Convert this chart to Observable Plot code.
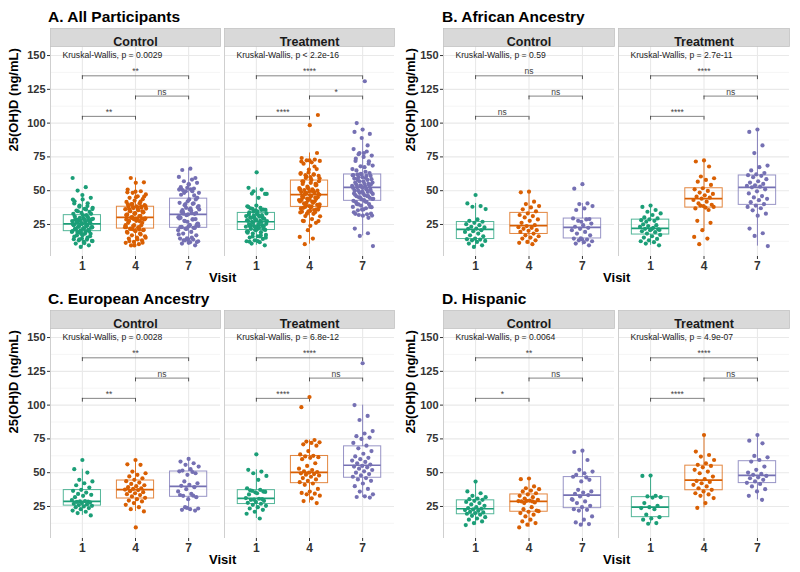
<!DOCTYPE html>
<html><head><meta charset="utf-8">
<script src="https://cdn.jsdelivr.net/npm/d3@7"></script>
<script src="https://cdn.jsdelivr.net/npm/@observablehq/plot@0.6"></script>
<style>
body{margin:0;background:#fff;font-family:"Liberation Sans",Arial,sans-serif;}
#root{position:relative;width:800px;height:572px;overflow:hidden;background:#fff;}
.panel{position:absolute;width:400px;height:290px;}
.ptitle{position:absolute;top:7px;font-size:15.5px;font-weight:bold;line-height:20px;color:#000;white-space:nowrap;}
.pchart{position:absolute;top:24px;left:0;}
</style></head><body><div id="root"></div>
<script>
// ---------- categories ----------
const visits = ["1", "4", "7"];
const arms = ["Control", "Treatment"];
const visitColors = ["#1B9E77", "#D95F02", "#7570B3"];
const yTicks = [25, 50, 75, 100, 125, 150];
const yMinor = [12.5, 37.5, 62.5, 87.5, 112.5, 137.5];
const yTitle = "25(OH)D (ng/mL)";
const xTitle = "Visit";
const panelTitles = ["A. All Participants", "B. African Ancestry", "C. European Ancestry", "D. Hispanic"];

// ---------- pairwise comparison brackets ----------
const bracketFrom = ["1", "4", "1"];
const bracketTo = ["4", "7", "7"];
const bracketY = [105, 120, 135];
const kwY = 150;

const kwA = ["Kruskal-Wallis, p = 0.0029", "Kruskal-Wallis, p < 2.2e-16"];
const kwB = ["Kruskal-Wallis, p = 0.59", "Kruskal-Wallis, p = 2.7e-11"];
const kwC = ["Kruskal-Wallis, p = 0.0028", "Kruskal-Wallis, p = 6.8e-12"];
const kwD = ["Kruskal-Wallis, p = 0.0064", "Kruskal-Wallis, p = 4.9e-07"];

const sigACtrl = ["**", "ns", "**"], sigATrt = ["****", "*", "****"];
const sigBCtrl = ["ns", "ns", "ns"], sigBTrt = ["****", "ns", "****"];
const sigCCtrl = ["**", "ns", "**"], sigCTrt = ["****", "ns", "****"];
const sigDCtrl = ["*", "ns", "**"], sigDTrt = ["****", "ns", "****"];

// ---------- 25(OH)D values (ng/mL) ----------
// African ancestry
const afrCtrl1 = [46.8, 40.6, 38.6, 38.1, 36.4, 28.7, 27.7, 27.0, 26.2, 25.2, 24.5, 23.3, 22.8, 22.0, 21.8, 20.8, 20.0, 19.5, 18.3, 17.0, 16.3, 14.6, 14.1, 13.8, 13.3, 12.8, 12.1, 10.9, 9.6, 8.4];
const afrCtrl4 = [49.3, 48.8, 41.9, 40.1, 38.6, 37.6, 36.2, 34.7, 33.2, 32.0, 31.2, 30.2, 28.7, 27.7, 26.2, 24.5, 23.8, 23.0, 22.5, 21.8, 20.8, 20.3, 19.5, 18.3, 17.0, 16.3, 15.3, 14.6, 13.3, 12.1, 11.4, 10.4];
const afrCtrl7 = [54.8, 51.5, 40.6, 40.1, 38.6, 36.9, 35.7, 29.0, 27.0, 29.5, 28.7, 27.7, 25.7, 24.5, 23.3, 22.5, 21.8, 20.8, 19.5, 18.3, 17.0, 14.0, 14.6, 13.8, 13.3, 12.6, 11.9, 10.9, 9.6, 14.8];
const afrTrt1 = [39.0, 38.0, 35.7, 34.4, 33.2, 32.0, 30.2, 29.5, 28.7, 28.2, 27.7, 27.0, 21.0, 21.5, 25.0, 24.5, 23.8, 23.3, 22.5, 21.8, 21.3, 20.8, 20.0, 19.3, 18.3, 17.3, 16.3, 15.3, 14.3, 13.3, 12.6, 11.9, 10.9, 9.6];
const afrTrt4 = [72.4, 71.6, 67.9, 60.5, 59.2, 58.0, 56.7, 54.3, 51.8, 51.0, 49.8, 48.6, 47.6, 46.6, 45.6, 44.8, 44.1, 43.1, 41.9, 40.6, 39.6, 38.6, 36.9, 35.7, 39.0, 38.0, 37.5, 27.7, 26.2, 20.8, 15.8, 14.6, 10.4];
const afrTrt7 = [95.2, 93.5, 83.5, 77.8, 68.6, 67.4, 65.0, 63.0, 62.0, 61.5, 61.0, 60.0, 58.5, 57.0, 56.0, 55.0, 54.0, 53.5, 53.0, 52.5, 51.0, 49.5, 48.0, 46.0, 45.0, 44.0, 43.0, 41.5, 40.0, 39.0, 38.0, 37.0, 35.5, 33.0, 31.5, 22.0, 18.5, 16.5, 9.0];
// European ancestry
const eurCtrl1 = [59.4, 52.6, 50.1, 44.7, 43.5, 42.2, 40.7, 39.0, 37.3, 36.6, 35.3, 34.3, 33.6, 32.9, 31.9, 28.6, 28.7, 29.7, 28.9, 28.4, 28.0, 27.5, 27.0, 26.5, 26.0, 25.5, 25.0, 24.5, 23.8, 23.0, 22.0, 21.1, 20.1, 18.4];
const eurCtrl4 = [59.4, 56.2, 55.8, 50.8, 49.6, 48.4, 47.2, 45.9, 44.7, 43.7, 42.7, 41.7, 40.7, 40.0, 39.3, 38.5, 38.0, 37.5, 37.1, 36.3, 35.6, 34.8, 34.1, 33.4, 32.4, 31.4, 30.4, 29.4, 28.7, 27.5, 26.2, 24.5, 23.0, 21.3, 9.5];
const eurCtrl7 = [60.2, 58.2, 57.0, 55.8, 54.5, 52.6, 51.6, 49.6, 48.4, 51.0, 50.5, 43.5, 42.2, 41.0, 40.3, 39.3, 37.8, 36.1, 34.3, 32.9, 31.9, 30.4, 33.5, 33.0, 24.5, 23.5, 23.0, 22.5, 22.0, 24.0];
const eurTrt1 = [63.6, 52.1, 50.8, 49.6, 47.6, 44.7, 37.0, 36.0, 35.5, 38.5, 37.3, 36.6, 35.8, 34.8, 33.9, 30.5, 30.0, 31.2, 30.7, 29.9, 29.2, 28.4, 27.7, 27.0, 26.2, 25.5, 24.5, 23.5, 22.5, 21.1, 19.6, 16.1];
const eurTrt4 = [106, 98.5, 74.2, 73, 72.5, 72, 71, 70, 66, 63.5, 62.5, 62, 61.5, 61, 60, 57, 55, 53, 52, 51, 50.5, 50, 49.5, 49, 48.5, 48, 47, 46, 45, 44, 43, 42, 41, 38, 36, 35, 34.5, 34, 33, 31, 29, 27.5];
const eurTrt7 = [131, 100, 92, 89, 80.8, 79, 77, 76, 75, 72, 70, 68, 66, 64, 62, 61, 60, 59, 58, 57, 56, 55, 54.5, 54, 53, 52, 51, 50, 49, 48, 47, 46, 45, 44, 42, 40, 38, 36, 34, 32.5, 32, 31.6];
// Hispanic
const hisCtrl1 = [43.4, 36.1, 34.8, 32.9, 31.9, 30.9, 30.4, 29.9, 29.2, 28.4, 27.5, 26.5, 25.5, 24.5, 23.8, 23.3, 22.8, 22.3, 21.8, 21.1, 20.6, 20.1, 19.6, 18.9, 18.1, 17.1, 16.1, 15.2, 13.9, 12.7, 11.2];
const hisCtrl4 = [45.7, 45.2, 39.8, 38.5, 37.8, 36.8, 36.1, 34.8, 33.9, 32.9, 31.9, 30.9, 29.9, 29.4, 28.7, 28.0, 29.2, 29.0, 24.5, 23.0, 22.0, 21.1, 20.1, 18.9, 17.6, 21.5, 15.2, 13.9, 12.7, 11.5, 9.5, 28.7, 27.5];
const hisCtrl7 = [66.3, 65.3, 59.4, 52.1, 50.8, 49.6, 48.4, 44.7, 43.5, 47.0, 46.5, 37.3, 36.1, 35.3, 34.3, 33.4, 32.4, 30.4, 28.7, 27.5, 25.5, 24.5, 23.0, 22.5, 22.0, 17.6, 15.2, 13.2, 12.0, 11.5, 29.9];
const hisTrt1 = [47.9, 47.6, 32.9, 32.4, 31.9, 31.6, 27.5, 25.5, 24.5, 23.8, 23.0, 18.9, 17.1, 16.1, 15.2, 12.7, 12.2];
const hisTrt4 = [77.9, 65.6, 63.1, 61.9, 59.4, 57.0, 55.8, 55.0, 54.0, 52.1, 50.8, 49.6, 47.1, 45.2, 43.9, 43.2, 42.2, 41.0, 39.8, 38.5, 37.3, 36.1, 34.8, 33.9, 32.9, 31.2, 27.5, 24.0];
const hisTrt7 = [77.9, 73.7, 71.7, 62.4, 61.4, 59.4, 58.2, 54.5, 52.1, 50.1, 49.1, 48.4, 47.6, 46.6, 45.9, 44.7, 43.5, 42.5, 41.7, 39.8, 37.8, 36.1, 32.9, 29.9];

// ---------- assemble ----------
const afrSets = [["Control","1",afrCtrl1],["Control","4",afrCtrl4],["Control","7",afrCtrl7],["Treatment","1",afrTrt1],["Treatment","4",afrTrt4],["Treatment","7",afrTrt7]];
const eurSets = [["Control","1",eurCtrl1],["Control","4",eurCtrl4],["Control","7",eurCtrl7],["Treatment","1",eurTrt1],["Treatment","4",eurTrt4],["Treatment","7",eurTrt7]];
const hisSets = [["Control","1",hisCtrl1],["Control","4",hisCtrl4],["Control","7",hisCtrl7],["Treatment","1",hisTrt1],["Treatment","4",hisTrt4],["Treatment","7",hisTrt7]];
// All participants = union of the three ancestry groups
const allSets = afrSets.map((s, i) => [s[0], s[1], [...s[2], ...eurSets[i][2], ...hisSets[i][2]]]);

const posOf = v => visits.indexOf(v) + 1;
// deterministic (non-random) horizontal jitter within +-0.2 of the category
const jit = k => (((k * 0.6180339887) + 0.5) % 1 - 0.5) * 0.4;

function rowsFrom(sets) {
  const out = [];
  for (const [arm, visit, vals] of sets) vals.forEach((v, k) => out.push({arm, visit, pos: posOf(visit), value: v, k}));
  return out;
}
function statsFrom(sets) {
  return sets.map(([arm, visit, vals]) => {
    const s = vals.slice().sort(d3.ascending);
    const q1 = d3.quantile(s, 0.25), med = d3.quantile(s, 0.5), q3 = d3.quantile(s, 0.75);
    const iqr = q3 - q1;
    const lo = d3.min(s.filter(v => v >= q1 - 1.5 * iqr));
    const hi = d3.max(s.filter(v => v <= q3 + 1.5 * iqr));
    return {arm, visit, pos: posOf(visit), q1, med, q3, lo, hi};
  });
}

const FONT = "'Liberation Sans', Arial, Helvetica, sans-serif";
const H = 262, MT = 22, MB = 30, BOXHALF = 0.35;

function makePanel(left, top, title, sets, kw, sigC, sigT, mL, mR, ytDx) {
  const rows = rowsFrom(sets);
  const stats = statsFrom(sets);
  const kwRows = arms.map((a, i) => ({arm: a, label: kw[i], y: kwY}));
  const br = [];
  arms.forEach((a, ai) => bracketY.forEach((y, j) => br.push({arm: a, x1: posOf(bracketFrom[j]), x2: posOf(bracketTo[j]), y, label: (ai === 0 ? sigC : sigT)[j]})));
  const tips = br.flatMap(d => [{arm: d.arm, x: d.x1, y: d.y}, {arm: d.arm, x: d.x2, y: d.y}]);
  const pInner = 0.025;
  const innerW = 400 - mL - mR;
  const gap = innerW / (2 - pInner) * pInner;

  const chart = Plot.plot({
    width: 400, height: H, marginTop: MT, marginBottom: MB, marginLeft: mL, marginRight: mR,
    style: {fontFamily: FONT, background: "white", overflow: "visible"},
    fx: {domain: arms, paddingInner: pInner, paddingOuter: 0, axis: null, label: null},
    x: {domain: [0.4, 3.6], label: null},
    y: {domain: [1.3, 156.7], label: null},
    color: {domain: visits, range: visitColors},
    marks: [
      Plot.ruleY(yMinor, {stroke: "#f1f1f1", strokeWidth: 0.7}),
      Plot.ruleY(yTicks, {stroke: "#e9e9e9", strokeWidth: 1.1}),
      Plot.ruleX(visits.map(posOf), {stroke: "#e9e9e9", strokeWidth: 1.1}),
      Plot.ruleX([0.4], {stroke: "#cfcfcf", strokeWidth: 1}),
      Plot.frame({fill: "#d9d9d9", stroke: "#c2c2c2", strokeWidth: 0.8, insetTop: -18, insetBottom: H - MT - MB}),
      Plot.text(arms, {fx: d => d, text: d => d, frameAnchor: "top", dy: -9, fontSize: 12.5, fontWeight: "bold", fill: "#1a1a1a"}),
      Plot.axisY(yTicks, {tickSize: 3, tickPadding: 2, fontSize: 11, fontWeight: "bold", color: "#333", label: null}),
      Plot.axisX(visits.map(posOf), {tickSize: 3, tickPadding: 2, tickFormat: i => visits[i - 1], fontSize: 12, fontWeight: "bold", color: "#333", label: null}),
      Plot.text([yTitle], {fx: () => "Control", frameAnchor: "left", rotate: -90, dx: ytDx, fontSize: 13, fontWeight: "bold", fill: "#000"}),
      Plot.text([xTitle], {fx: () => "Control", frameAnchor: "bottom-right", textAnchor: "middle", lineAnchor: "middle", dx: gap / 2, dy: 21, fontSize: 13, fontWeight: "bold", fill: "#000"}),
      Plot.text(kwRows, {fx: "arm", y: "y", text: "label", frameAnchor: "left", dx: 12, textAnchor: "start", fontSize: 8.6, fill: "#222"}),
      Plot.ruleY(br, {fx: "arm", y: "y", x1: "x1", x2: "x2", stroke: "#666", strokeWidth: 0.8}),
      Plot.ruleX(tips, {fx: "arm", x: "x", y1: "y", y2: d => d.y - 2.8, stroke: "#444", strokeWidth: 0.9}),
      Plot.text(br, {fx: "arm", x: d => (d.x1 + d.x2) / 2, y: "y", text: "label", lineAnchor: "bottom", dy: -1.5, fontSize: 8.5, fill: "#444"}),
      Plot.ruleX(stats, {fx: "arm", x: "pos", y1: "q3", y2: "hi", stroke: "visit", strokeWidth: 1, strokeOpacity: 0.85}),
      Plot.ruleX(stats, {fx: "arm", x: "pos", y1: "lo", y2: "q1", stroke: "visit", strokeWidth: 1, strokeOpacity: 0.85}),
      Plot.rect(stats, {fx: "arm", x1: d => d.pos - BOXHALF, x2: d => d.pos + BOXHALF, y1: "q1", y2: "q3", stroke: "visit", fill: "none", strokeWidth: 1, strokeOpacity: 0.75}),
      Plot.ruleY(stats, {fx: "arm", y: "med", x1: d => d.pos - BOXHALF, x2: d => d.pos + BOXHALF, stroke: "visit", strokeWidth: 1.7}),
      Plot.dot(rows, {fx: "arm", x: d => d.pos + jit(d.k), y: "value", fill: "visit", r: 2.1})
    ]
  });

  const div = document.createElement("div");
  div.className = "panel";
  div.style.left = left + "px";
  div.style.top = top + "px";
  const t = document.createElement("div");
  t.className = "ptitle";
  t.style.left = (mL - 1) + "px";
  t.textContent = title;
  const c = document.createElement("div");
  c.className = "pchart";
  c.appendChild(chart);
  div.appendChild(c);
  div.appendChild(t);
  document.getElementById("root").appendChild(div);
}

makePanel(0, 0, panelTitles[0], allSets, kwA, sigACtrl, sigATrt, 49, 6, -36.5);
makePanel(400, 0, panelTitles[1], afrSets, kwB, sigBCtrl, sigBTrt, 43, 11, -32.5);
makePanel(0, 282, panelTitles[2], eurSets, kwC, sigCCtrl, sigCTrt, 49, 6, -36.5);
makePanel(400, 282, panelTitles[3], hisSets, kwD, sigDCtrl, sigDTrt, 43, 11, -32.5);
</script></body></html>
